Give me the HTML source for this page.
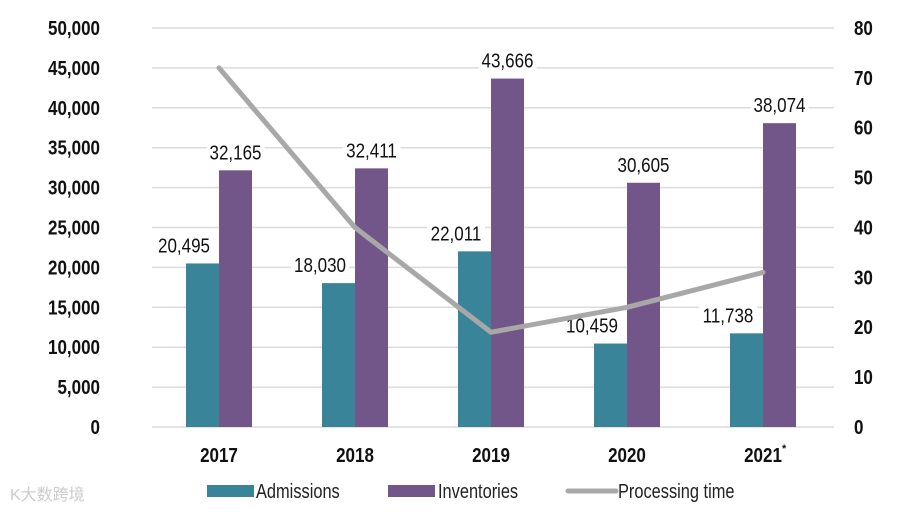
<!DOCTYPE html>
<html><head><meta charset="utf-8"><style>
body{margin:0;background:#fff;}
svg text{font-family:"Liberation Sans",sans-serif;}
</style></head><body>
<svg id="chart" width="916" height="512" viewBox="0 0 916 512" xmlns="http://www.w3.org/2000/svg">
<g id="grid"></g>
<g id="yl"></g>
<g id="yr"></g>
<g id="labels"></g>
<g id="bars"></g>
<g id="line"></g>
<g id="xl"></g>
<g>
 <rect x="207" y="485" width="47" height="12" fill="#3a8499"/>
 <text x="256" y="498" font-size="20" transform="translate(256 0) scale(0.82 1) translate(-256 0)" fill="#222">Admissions</text>
 <rect x="388" y="485" width="47" height="12" fill="#735689"/>
 <text x="438" y="498" font-size="20" transform="translate(438 0) scale(0.82 1) translate(-438 0)" fill="#222">Inventories</text>
 <line x1="568" y1="491" x2="616" y2="491" stroke="#a8a8a8" stroke-width="5" stroke-linecap="round"/>
 <text x="618" y="498" font-size="20" transform="translate(618 0) scale(0.82 1) translate(-618 0)" fill="#222">Processing time</text>
</g>
<text x="10" y="500" font-size="16" fill="#ccc" font-family="Liberation Sans, Noto Sans CJK SC, sans-serif">K大数跨境</text>
</svg>
<script>
const categories=["2017","2018","2019","2020","2021*"];
const admissions=[20495,18030,22011,10459,11738];
const inventories=[32165,32411,43666,30605,38074];
const processing=[72,40,19,24,31];
const leftTicks=[0,5000,10000,15000,20000,25000,30000,35000,40000,45000,50000];
const rightTicks=[0,10,20,30,40,50,60,70,80];
const NS="http://www.w3.org/2000/svg";
const y0=427,y1=28,x0=152,x1=834,c0=219,step=136,bw=33;
const yL=v=>y0-(v/50000)*(y0-y1);
const yR=v=>y0-(v/80)*(y0-y1);
const xC=i=>c0+i*step;
const fmt=v=>v.toLocaleString('en-US');
function mk(tag,attrs,parent){const e=document.createElementNS(NS,tag);for(const k in attrs)e.setAttribute(k,attrs[k]);parent.appendChild(e);return e;}
const G=id=>document.getElementById(id);
function txt(parent,x,y,s,size,weight,anchor){
 const t=mk('text',{x:x,y:y,'font-size':size,'font-weight':weight,'text-anchor':anchor,fill:'#111',transform:`translate(${x} 0) scale(0.85 1) translate(${-x} 0)`},parent);
 t.textContent=s;return t;}
leftTicks.forEach(v=>{
 const l=mk('line',{x1:x0,x2:x1,y1:yL(v),y2:yL(v),stroke:'#dcdcdc','stroke-width':1.5},G('grid'));
 
 
 const t=txt(G('yl'),100,yL(v)+7,fmt(v),20,'bold','end');
 
 
});
rightTicks.forEach(v=>{
 const t=txt(G('yr'),854,yR(v)+7,String(v),20,'bold','start');
 
 
});
categories.forEach((c,i)=>{
 const a=mk('rect',{x:xC(i)-bw,y:yL(admissions[i]),width:bw,height:y0-yL(admissions[i]),fill:'#3a8499'},G('bars'));
 
 
 const b=mk('rect',{x:xC(i),y:yL(inventories[i]),width:bw,height:y0-yL(inventories[i]),fill:'#735689'},G('bars'));
 
 
 [[admissions[i],xC(i)-bw-2],[inventories[i],xC(i)+bw/2]].forEach(([v,x])=>{
  const w=58;mk('rect',{x:x-w/2,y:yL(v)-30,width:w,height:24,fill:'#fff'},G('labels'));
  const t=txt(G('labels'),x,yL(v)-11,fmt(v),20,'normal','middle');
  
  
 });
 const xt=txt(G('xl'),xC(i),462,c.replace('*',''),20,'bold','middle');
 
 
 if(c.includes('*')){const s=mk('text',{x:xC(i)+19,y:452,'font-size':11,'font-weight':'bold',fill:'#111'},G('xl'));s.textContent='*';}
});
const p=mk('polyline',{points:processing.map((v,i)=>xC(i)+','+yR(v)).join(' '),fill:'none',stroke:'#a8a8a8','stroke-width':5,'stroke-linejoin':'round','stroke-linecap':'round'},G('line'));


</script>
</body></html>
